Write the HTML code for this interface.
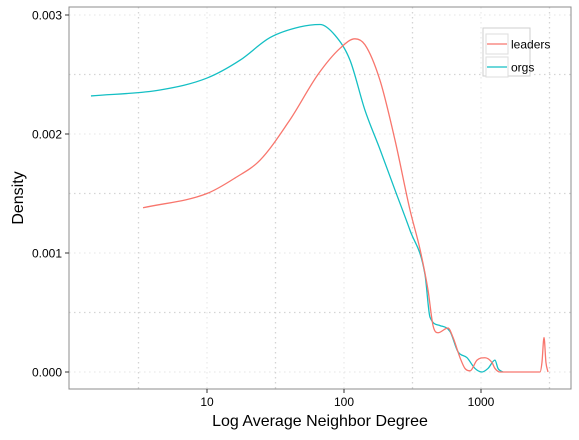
<!DOCTYPE html>
<html><head><meta charset="utf-8"><style>
body{margin:0;background:#fff;font-family:"Liberation Sans",Arial,sans-serif}
</style></head><body>
<svg id="chart" width="579" height="435" xmlns="http://www.w3.org/2000/svg" font-family="Liberation Sans, Arial, sans-serif"></svg>
<script>
const yTicks=[0,0.001,0.002,0.003];
const yTickLabels=["0.000","0.001","0.002","0.003"];
const xTicks=[1,2,3];
const xTickLabels=["10","100","1000"];
const leadersLogX=[0.533,1.0,1.204,1.387,1.606,1.810,1.971,2.080,2.153,2.263,2.372,2.482,2.555,2.613,2.650,2.686,2.759,2.796,2.847,2.883,2.920,2.971,3.029,3.080,3.102,3.139,3.431,3.445,3.460,3.474,3.489];
const leadersDensity=[0.00138,0.00150,0.00163,0.00178,0.00212,0.00250,0.00272,0.00280,0.00275,0.00245,0.00195,0.00136,0.00103,0.00069,0.00039,0.00033,0.00037,0.00029,0.00012,0.00003,0.00001,0.00010,0.00012,0.00008,0.00003,0,0,0.00008,0.00029,0.00008,0];
const orgsLogX=[0.153,0.657,1.0,1.241,1.460,1.679,1.825,1.934,2.044,2.153,2.263,2.372,2.482,2.591,2.628,2.701,2.774,2.832,2.898,2.956,3.007,3.051,3.102,3.124,3.161];
const orgsDensity=[0.00232,0.00237,0.00247,0.00262,0.00281,0.00290,0.00292,0.00283,0.00262,0.00220,0.00187,0.00153,0.00119,0.00082,0.00046,0.00039,0.00034,0.00017,0.00012,0.00003,0,0.00003,0.00010,0.00003,0];
const seriesNames=["leaders","orgs"];

const svg=document.getElementById('chart');
const NS='http://www.w3.org/2000/svg';
const L=69,R=571,T=7,B=389;
const xs=v=>207+137*(v-1);
const ys=d=>372-d*119000;
function mk(tag,attrs,parent){const e=document.createElementNS(NS,tag);for(const k in attrs)e.setAttribute(k,attrs[k]);(parent||svg).appendChild(e);return e;}
// grid
const minorY=[0.0005,0.0015,0.0025];
minorY.forEach(v=>{const g=mk('line',{x1:L,x2:R,y1:ys(v),y2:ys(v),stroke:'#d4d4d4','stroke-dasharray':'1.5,3.5','stroke-width':1.3});

});
yTicks.forEach(v=>{const g=mk('line',{x1:L,x2:R,y1:ys(v),y2:ys(v),stroke:'#e4e4e4','stroke-dasharray':'1.5,3.5','stroke-width':1});

});
const minorX=[0.5,1.5,2.5,3.5];
minorX.forEach(v=>{const x=xs(v);if(x<L||x>R)return;const g=mk('line',{x1:x,x2:x,y1:T,y2:B,stroke:'#d4d4d4','stroke-dasharray':'1.5,3.5','stroke-width':1.3});

});
xTicks.forEach(v=>{const g=mk('line',{x1:xs(v),x2:xs(v),y1:T,y2:B,stroke:'#e4e4e4','stroke-dasharray':'1.5,3.5','stroke-width':1});

});
// monotone cubic path
function monoPath(px,py){const n=px.length,d=[],m=[];
for(let i=0;i<n-1;i++)d.push((py[i+1]-py[i])/(px[i+1]-px[i]));
m[0]=d[0];m[n-1]=d[n-2];
for(let i=1;i<n-1;i++){m[i]=(d[i-1]*d[i]<=0)?0:(d[i-1]+d[i])/2;}
for(let i=0;i<n-1;i++){if(d[i]===0){m[i]=0;m[i+1]=0;continue;}const a=m[i]/d[i],b=m[i+1]/d[i],s=a*a+b*b;if(s>9){const t=3/Math.sqrt(s);m[i]=t*a*d[i];m[i+1]=t*b*d[i];}}
let s='M'+px[0]+','+py[0];
for(let i=0;i<n-1;i++){const h=(px[i+1]-px[i])/3;s+=' C'+(px[i]+h)+','+(py[i]+m[i]*h)+' '+(px[i+1]-h)+','+(py[i+1]-m[i+1]*h)+' '+px[i+1]+','+py[i+1];}
return s;}
function line(xa,ya,color,name){const p=mk('path',{d:monoPath(xa.map(xs),ya.map(ys)),fill:'none',stroke:color,'stroke-width':1.3,'stroke-linejoin':'round'});

}
line(orgsLogX,orgsDensity,'#14bfc4','orgs-density-line');
line(leadersLogX,leadersDensity,'#f8766d','leaders-density-line');
// panel border
const pb=mk('rect',{x:L,y:T,width:R-L,height:B-T,fill:'none',stroke:'#8c8c8c','stroke-width':1});


// ticks
yTicks.forEach((v,i)=>{mk('line',{x1:L-4,x2:L,y1:ys(v),y2:ys(v),stroke:'#333'});
const t=mk('text',{x:L-7,y:ys(v)+4.5,'text-anchor':'end','font-size':12,fill:'#000'});t.textContent=yTickLabels[i];

});
xTicks.forEach((v,i)=>{mk('line',{x1:xs(v),x2:xs(v),y1:B,y2:B+4,stroke:'#333'});
const t=mk('text',{x:xs(v),y:B+17,'text-anchor':'middle','font-size':12,fill:'#000'});t.textContent=xTickLabels[i];

});
// axis titles
const xt=mk('text',{x:320,y:426,'text-anchor':'middle','font-size':16,fill:'#000'});xt.textContent='Log Average Neighbor Degree';


const yt=mk('text',{x:0,y:0,'text-anchor':'middle','font-size':16,fill:'#000',transform:'translate(23,198) rotate(-90)'});yt.textContent='Density';


// legend
const lg=mk('g',{});


mk('rect',{x:483,y:28,width:47,height:48,fill:'#fff',stroke:'#cfcfcf'},lg);
const colors=['#f8766d','#14bfc4'];
seriesNames.forEach((n,i)=>{const y=44+i*23;
const e=mk('g',{},lg);


mk('rect',{x:486,y:y-10,width:22,height:20,fill:'#fff',stroke:'#ddd'},e);
mk('line',{x1:487,x2:507,y1:y,y2:y,stroke:colors[i],'stroke-width':1.3},e);
const t=mk('text',{x:511,y:y+4.5,'font-size':12,fill:'#000'},e);t.textContent=n;});
</script>
</body></html>
